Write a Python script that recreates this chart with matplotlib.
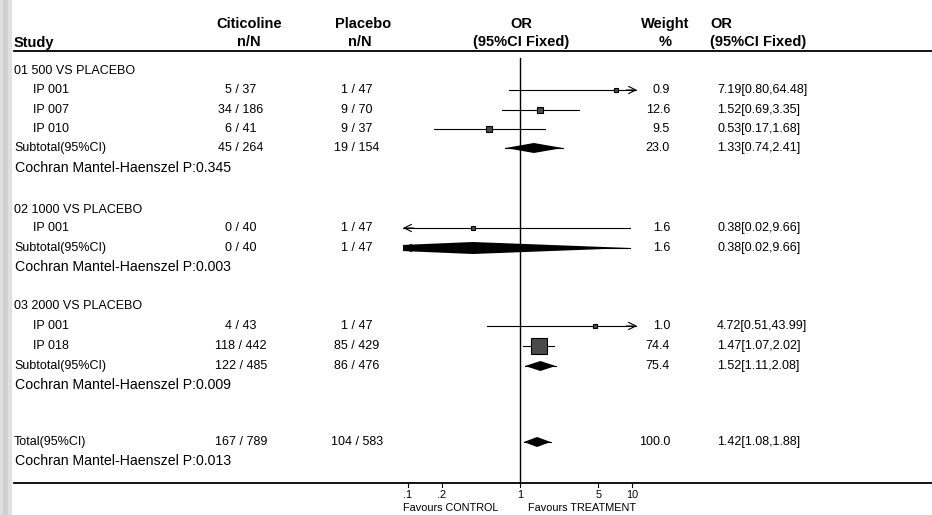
import numpy as np
import matplotlib
matplotlib.use("Agg")
import matplotlib.pyplot as plt
from matplotlib.patches import Rectangle

plt.rcParams['font.family'] = ['Liberation Sans', 'DejaVu Sans']

# data
group_titles = ["01 500 VS PLACEBO", "02 1000 VS PLACEBO", "03 2000 VS PLACEBO"]
cmh_p = ["0.345", "0.003", "0.009", "0.013"]

row_labels = ["IP 001", "IP 007", "IP 010", "Subtotal(95%CI)",
              "IP 001", "Subtotal(95%CI)",
              "IP 001", "IP 018", "Subtotal(95%CI)",
              "Total(95%CI)"]
is_pooled = [False, False, False, True, False, True, False, False, True, True]
treat_n = [5, 34, 6, 45, 0, 0, 4, 118, 122, 167]
treat_N = [37, 186, 41, 264, 40, 40, 43, 442, 485, 789]
ctrl_n = [1, 9, 9, 19, 1, 1, 1, 85, 86, 104]
ctrl_N = [47, 70, 37, 154, 47, 47, 47, 429, 476, 583]
odds = [7.19, 1.52, 0.53, 1.33, 0.38, 0.38, 4.72, 1.47, 1.52, 1.42]
ci_lo = [0.80, 0.69, 0.17, 0.74, 0.02, 0.02, 0.51, 1.07, 1.11, 1.08]
ci_hi = [64.48, 3.35, 1.68, 2.41, 9.66, 9.66, 43.99, 2.02, 2.08, 1.88]
weight = [0.9, 12.6, 9.5, 23.0, 1.6, 1.6, 1.0, 74.4, 75.4, 100.0]

axis_ticks = [0.1, 0.2, 1, 5, 10]
axis_tick_labels = [".1", ".2", "1", "5", "10"]

# layout (pixels, y downwards)
W, H = 932, 515
title_y = [71, 210, 306]
row_y = [90, 110, 129, 148, 228, 248, 326, 346, 366, 442]
p_y = [168, 267, 385, 461]
line_top, line_bot = 51, 483
x_study, x_indent = 14, 33
x_treat, x_ctrl = 241, 357
x_weight, x_or = 670, 717
fs_row, fs_head, fs_p = 9, 10.5, 10.2

fig = plt.figure(figsize=(W / 100, H / 100), dpi=100)
fig.patch.set_facecolor('white')

cv = fig.add_axes([0, 0, 1, 1])
cv.set_xlim(0, W)
cv.set_ylim(H, 0)
cv.axis('off')

# scanner edge on the left
cv.add_patch(Rectangle((0, 0), 12, H, color='#e0e0e0', lw=0))
cv.add_patch(Rectangle((3, 0), 5, H, color='#d0d0d0', lw=0))

# header
hk = dict(fontsize=fs_head, fontweight='bold', va='center')
cv.text(x_study, 43, "Study", ha='left', **hk)
cv.text(249, 24, "Citicoline", ha='center', **hk)
cv.text(249, 42, "n/N", ha='center', **hk)
cv.text(363, 24, "Placebo", ha='center', **hk)
cv.text(360, 42, "n/N", ha='center', **hk)
cv.text(521, 24, "OR", ha='center', **hk)
cv.text(521, 42, "(95%CI Fixed)", ha='center', **hk)
cv.text(665, 24, "Weight", ha='center', **hk)
cv.text(665, 42, "%", ha='center', **hk)
cv.text(710, 24, "OR", ha='left', **hk)
cv.text(710, 42, "(95%CI Fixed)", ha='left', **hk)
cv.plot([x_study, W], [line_top, line_top], color='black', lw=1.3)
cv.plot([x_study, W], [line_bot, line_bot], color='black', lw=1.3)

for t, y in zip(group_titles, title_y):
    cv.text(x_study, y, t, fontsize=fs_row, va='center')
for p, y in zip(cmh_p, p_y):
    cv.text(x_study + 1, y, "Cochran Mantel-Haenszel P:" + p, fontsize=fs_p, va='center')

for i, y in enumerate(row_y):
    x0 = x_study if is_pooled[i] else x_indent
    cv.text(x0, y, row_labels[i], fontsize=fs_row, va='center')
    cv.text(x_treat, y, f"{treat_n[i]} / {treat_N[i]}", fontsize=fs_row, va='center', ha='center')
    cv.text(x_ctrl, y, f"{ctrl_n[i]} / {ctrl_N[i]}", fontsize=fs_row, va='center', ha='center')
    cv.text(x_weight, y, f"{weight[i]:.1f}", fontsize=fs_row, va='center', ha='right')
    cv.text(x_or, y, f"{odds[i]:.2f}[{ci_lo[i]:.2f},{ci_hi[i]:.2f}]", fontsize=fs_row, va='center')

cv.text(451, 508, "Favours CONTROL", fontsize=7.8, ha='center', va='center')
cv.text(582, 508, "Favours TREATMENT", fontsize=7.8, ha='center', va='center')

# forest panel: log scale, 1 at x=520 px, 112 px per decade
half = 117 / 112
ax = fig.add_axes([(520 - 117) / W, 0, 234 / W, 1])
ax.set_xscale('log')
xmin, xmax = 10 ** -half, 10 ** half
ax.set_xlim(xmin, xmax)
ax.set_ylim(H, 0)
ax.axis('off')
ax.patch.set_alpha(0)

ax.plot([1, 1], [58, line_bot], color='black', lw=1.0)
for t, lab in zip(axis_ticks, axis_tick_labels):
    ax.plot([t, t], [line_bot, line_bot + 4], color='black', lw=0.8, clip_on=False)
    ax.text(t, 495, lab, fontsize=7.8, ha='center', va='center', clip_on=False)

arrow = dict(arrowstyle='->', lw=0.8, color='black', shrinkA=0, shrinkB=0, mutation_scale=13)
for i, y in enumerate(row_y):
    lo, hi, est = ci_lo[i], ci_hi[i], odds[i]
    a, b = max(lo, xmin), min(hi, xmax)
    ax.plot([a, b], [y, y], color='black', lw=0.8)
    if hi > xmax:
        ax.annotate('', xy=(xmax, y), xytext=(xmax * 0.8, y), arrowprops=arrow)
    if lo < xmin:
        ax.annotate('', xy=(xmin, y), xytext=(xmin * 1.25, y), arrowprops=arrow)
    if is_pooled[i]:
        h = 6 if hi / lo > 50 else 5
        ax.fill([lo, est, hi, est], [y, y - h, y, y + h], color='black', lw=0)
    else:
        px = max(4, 1.85 * np.sqrt(weight[i]))
        ax.plot(est, y, marker='s', ms=px * 0.72, mfc='#4a4a4a', mec='black', mew=0.8)

fig.savefig("out.png", dpi=100, facecolor='white')
